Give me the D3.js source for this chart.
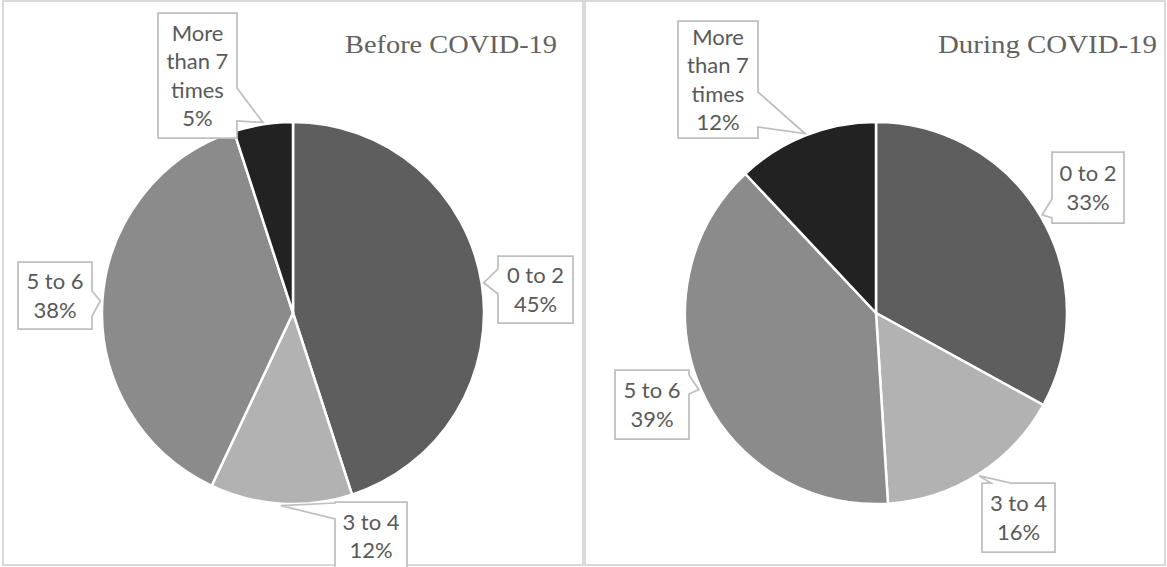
<!DOCTYPE html>
<html>
<head>
<meta charset="utf-8">
<script src="https://cdn.jsdelivr.net/npm/d3@7"></script>
<style>
  html, body { margin: 0; padding: 0; background: #fff; }
  svg { display: block; }
</style>
</head>
<body>
<svg id="chart" width="1167" height="567"></svg>
<script>
// Weekly frequency categories and their shares (%)
const categories = ["0 to 2", "3 to 4", "5 to 6", "More than 7 times"];
const labelLines = [["0 to 2"], ["3 to 4"], ["5 to 6"], ["More", "than 7", "times"]];
const beforeValues = [45, 12, 38, 5];
const duringValues = [33, 16, 39, 12];
const titles = ["Before COVID-19", "During COVID-19"];

// Slice fills, one per category
const sliceColors = ["#5e5e5e", "#b2b2b2", "#8b8b8b", "#222222"];

// Callout boxes: rectangle plus the side and span of the pointer base
const beforeCallouts = [
  { x: 498, y: 256, w: 75, h: 67, side: "left",  base: [269, 294] },
  { x: 335, y: 502, w: 72, h: 68, side: "left",  base: [503, 519] },
  { x: 18,  y: 262, w: 74, h: 67, side: "right", base: [291, 316] },
  { x: 158, y: 13,  w: 79, h: 125, side: "right", base: [88, 121] }
];
const duringCallouts = [
  { x: 1052, y: 152, w: 72, h: 71, side: "left",  base: [199, 218] },
  { x: 982,  y: 483, w: 73, h: 69, side: "top",   base: [991, 1011] },
  { x: 615,  y: 370, w: 74, h: 69, side: "right", base: [375, 394] },
  { x: 678,  y: 21,  w: 80, h: 117, side: "right", base: [92, 127] }
];

const panels = [
  { x: 3,   w: 580, cx: 293, titleRight: 557, titleWidth: 212, values: beforeValues, callouts: beforeCallouts, title: titles[0] },
  { x: 585, w: 580, cx: 876, titleRight: 1157, titleWidth: 219, values: duringValues, callouts: duringCallouts, title: titles[1] }
];

const svg = d3.select("#chart");
const radius = 191;
const cy = 313;

const pie = d3.pie().sort(null).value(d => d);
const arc = d3.arc().innerRadius(0).outerRadius(radius);
const tipArc = d3.arc().innerRadius(radius + 2).outerRadius(radius + 2);

function calloutPath(c, tip) {
  const { x, y, w, h, side, base } = c;
  const [t0, t1] = tip;
  const p = d3.path();
  if (side === "left") {
    p.moveTo(x, y); p.lineTo(x + w, y); p.lineTo(x + w, y + h); p.lineTo(x, y + h);
    p.lineTo(x, base[1]); p.lineTo(t0, t1); p.lineTo(x, base[0]);
  } else if (side === "right") {
    p.moveTo(x, y); p.lineTo(x + w, y); p.lineTo(x + w, base[0]); p.lineTo(t0, t1);
    p.lineTo(x + w, base[1]); p.lineTo(x + w, y + h); p.lineTo(x, y + h);
  } else {
    p.moveTo(x, y); p.lineTo(base[0], y); p.lineTo(t0, t1); p.lineTo(base[1], y);
    p.lineTo(x + w, y); p.lineTo(x + w, y + h); p.lineTo(x, y + h);
  }
  p.closePath();
  return p.toString();
}

panels.forEach(panel => {
  // panel frame
  svg.append("rect")
    .attr("x", panel.x).attr("y", 1)
    .attr("width", panel.w).attr("height", 564)
    .attr("fill", "#fff")
    .attr("stroke", "#d9d9d9").attr("stroke-width", 2);

  // title
  svg.append("text")
    .attr("x", panel.titleRight).attr("y", 53)
    .attr("text-anchor", "end")
    .attr("font-family", "'Liberation Serif', 'DejaVu Serif', serif")
    .attr("font-size", 25)
    .attr("fill", "#626262")
    .attr("textLength", panel.titleWidth)
    .attr("lengthAdjust", "spacingAndGlyphs")
    .text(panel.title);

  const arcs = pie(panel.values);
  const g = svg.append("g").attr("transform", `translate(${panel.cx},${cy})`);

  g.selectAll("path.slice")
    .data(arcs)
    .join("path")
    .attr("class", "slice")
    .attr("d", arc)
    .attr("fill", (d, i) => sliceColors[i])
    .attr("stroke", "#fff")
    .attr("stroke-width", 2.5)
    .attr("stroke-linejoin", "round");

  // data callouts
  arcs.forEach((a, i) => {
    const c = panel.callouts[i];
    const [tx, ty] = tipArc.centroid(a);
    const tip = [panel.cx + tx, cy + ty];
    svg.append("path")
      .attr("d", calloutPath(c, tip))
      .attr("fill", "#fff")
      .attr("stroke", "#bfbfbf")
      .attr("stroke-width", 1.75)
      .attr("stroke-linejoin", "miter");

    const lines = labelLines[i].concat([`${panel.values[i]}%`]);
    const lh = 28.3;
    const midY = c.y + c.h / 2;
    const t = svg.append("text")
      .attr("font-family", "Lato, 'Open Sans', sans-serif")
      .attr("font-size", 22)
      .attr("fill", "#595959")
      .attr("text-anchor", "middle");
    lines.forEach((ln, k) => {
      t.append("tspan")
        .attr("x", c.x + c.w / 2)
        .attr("y", midY + (k - (lines.length - 1) / 2) * lh + 8)
        .text(ln);
    });
  });
});
</script>
</body>
</html>
